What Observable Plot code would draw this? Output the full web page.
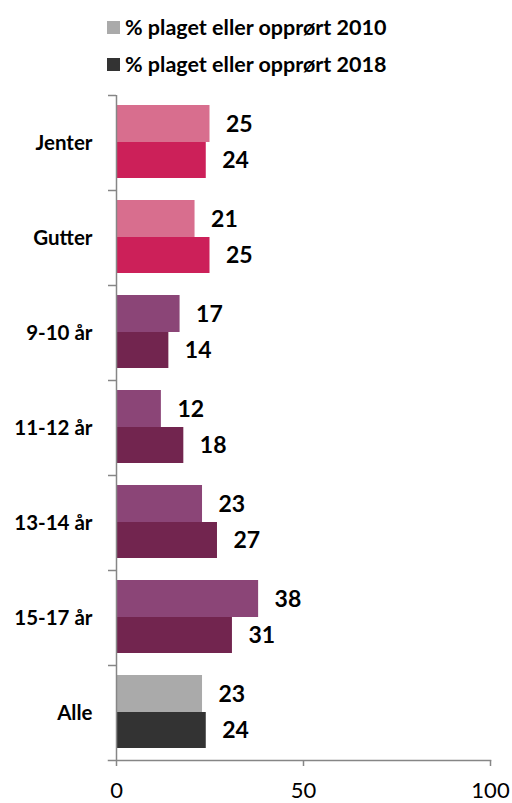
<!DOCTYPE html>
<html><head><meta charset="utf-8">
<script src="https://cdn.jsdelivr.net/npm/d3@7"></script>
<script src="https://cdn.jsdelivr.net/npm/@observablehq/plot@0.6"></script>
<style>
body{margin:0;background:#fff;font-family:Lato,sans-serif;}
#legend{height:85px;position:relative;width:512px;}
.row{position:absolute;left:107px;display:flex;align-items:center;font-weight:bold;font-size:21.5px;line-height:24px;color:#000;white-space:nowrap}
.sw{width:13px;height:13px;margin-right:5px}
</style></head><body>
<div id="legend"></div><div id="chart"></div>
<script>
const categories = ["Jenter","Gutter","9-10 år","11-12 år","13-14 år","15-17 år","Alle"];
const groups = ["kjonn","kjonn","alder","alder","alder","alder","alle"];
const values2010 = [25,21,17,12,23,38,23];
const values2018 = [24,25,14,18,27,31,24];
const seriesLabels = ["% plaget eller opprørt 2010","% plaget eller opprørt 2018"];
const legendColors = ["#aaaaaa","#333333"];
const colorKeys = ["kjonn 2010","kjonn 2018","alder 2010","alder 2018","alle 2010","alle 2018"];
const colorRange = ["#d86e8e","#cc2059","#8b4577","#72254f","#aaaaaa","#333333"];
const xTicks = [0,50,100];

const data2010 = categories.map((c,i)=>({cat:c, value:values2010[i], key:groups[i]+" 2010"}));
const data2018 = categories.map((c,i)=>({cat:c, value:values2018[i], key:groups[i]+" 2018"}));

const legend = document.getElementById("legend");
seriesLabels.forEach((s,i)=>{
  const r = document.createElement("div");
  r.className="row"; r.style.top = (15 + i*37) + "px";
  r.innerHTML = `<span class="sw" style="background:${legendColors[i]}"></span><span>${s}</span>`;
  legend.appendChild(r);
});

const axisColor = "#868686";
const chart = Plot.plot({
  width:512, height:718,
  marginTop:10, marginBottom:43, marginLeft:116, marginRight:22,
  style:{fontFamily:"Lato, sans-serif", background:"white", color:"black", overflow:"visible"},
  x:{domain:[0,100], label:null},
  y:{domain:categories, padding:0, label:null},
  color:{domain:colorKeys, range:colorRange},
  marks:[
    Plot.barX(data2010,{y:"cat", x:"value", fill:"key", insetTop:10, insetBottom:48}),
    Plot.barX(data2018,{y:"cat", x:"value", fill:"key", insetTop:47, insetBottom:12}),
    Plot.text(data2010,{y:"cat", x:"value", text:d=>String(d.value), dx:16, dy:-18, textAnchor:"start", fontSize:23, fontWeight:"bold", fill:"black"}),
    Plot.text(data2018,{y:"cat", x:"value", text:d=>String(d.value), dx:16, dy:18, textAnchor:"start", fontSize:23, fontWeight:"bold", fill:"black"}),
    Plot.ruleX([0],{stroke:axisColor, strokeWidth:1.5}),
    Plot.ruleY(categories,{y:d=>d, x1:0, x2:0, insetLeft:-8, dy:-47.5, stroke:axisColor, strokeWidth:1.5}),
    Plot.frame({anchor:"bottom", insetLeft:-8, stroke:axisColor, strokeWidth:1.5}),
    Plot.axisX({ticks:xTicks, tickSize:6, tickPadding:16, fontSize:22, stroke:axisColor, strokeWidth:1.5, tickFormat:d=>String(d), fill:"black", label:null}),
    Plot.axisY({tickSize:0, tickPadding:24, fontSize:20.5, fontWeight:"bold", fill:"black", label:null})
  ]
});
document.getElementById("chart").appendChild(chart);
</script>
</body></html>
